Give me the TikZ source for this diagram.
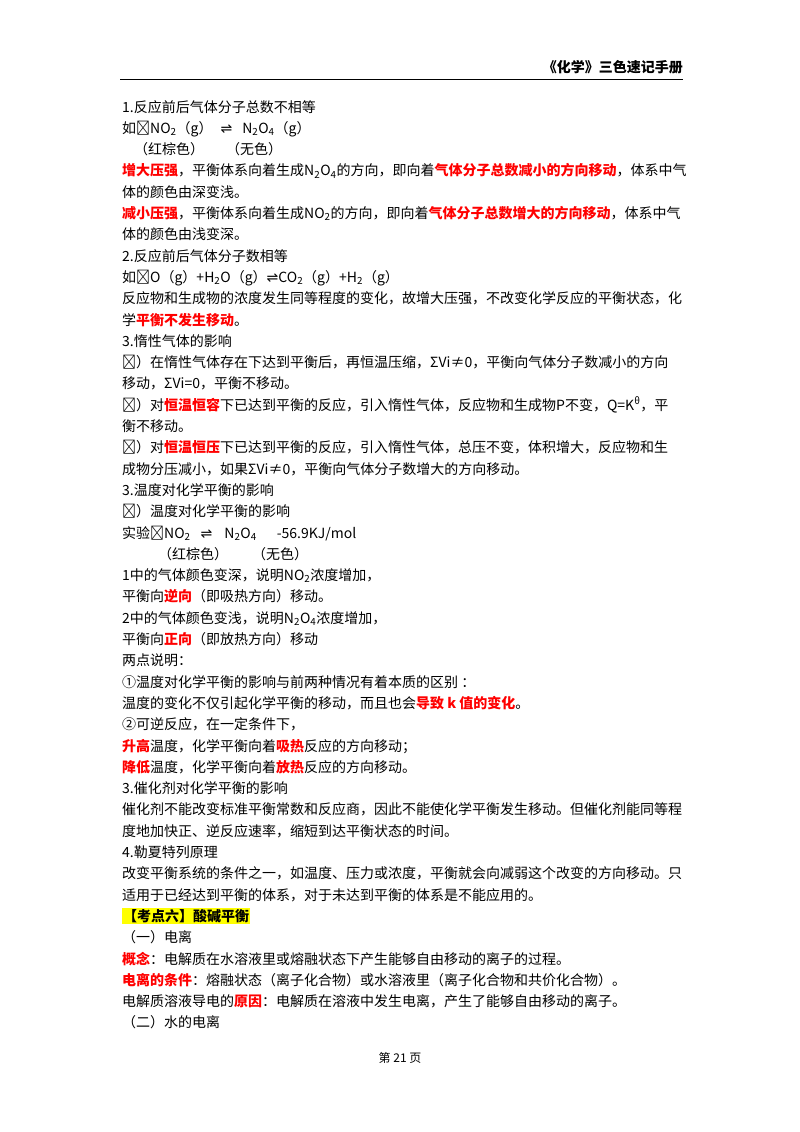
\documentclass[tikz,border=0pt]{standalone}
\usepackage{fontspec}
\setmainfont{Noto Sans CJK SC}
\newfontfamily\symf{DejaVu Sans}
\definecolor{hlred}{HTML}{FF0000}
\definecolor{hlyel}{HTML}{FFFF00}
\newcommand\hl[1]{\textcolor{hlred}{\bfseries #1}}
\newcommand\eqa{{\symf\char"21CC}}
\newcommand\sub[1]{\textsubscript{#1}}
\newcommand\cm{\char"FF0C}
\newcommand\lp{\char"FF08}
\newcommand\rp{\char"FF09}
\newcommand\co{\char"FF1A}
\newcommand\smc{\char"FF1B}
\begin{document}
\begin{tikzpicture}[x=1pt,y=-1pt,
  ln/.style={anchor=base west,inner sep=0pt,font=\fontsize{14}{14}\selectfont}]
\useasboundingbox (0,0) rectangle (800,1132);
\node[anchor=base east,inner sep=0pt,font=\fontsize{14}{14}\selectfont\bfseries] (hd) at (683,73) {《化学》三色速记手册};
\coordinate (r1) at (120,79); \coordinate (r2) at (683,79);
\draw[line width=0.8pt] (r1) -- (r2);
\foreach \t [count=\i] in {
 {1.反应前后气体分子总数不相等},
 {如\co 2NO\sub{2}\lp g\rp\hspace{8pt}\eqa\hspace{10pt}N\sub{2}O\sub{4}\lp g\rp},
 {\hspace{12pt}\lp 红棕色\rp\hspace{22pt}\lp 无色\rp},
 {\hl{增大压强}\cm 平衡体系向着生成N\sub{2}O\sub{4}的方向\cm 即向着\hl{气体分子总数减小的方向移动}\cm 体系中气},
 {体的颜色由深变浅。},
 {\hl{减小压强}\cm 平衡体系向着生成NO\sub{2}的方向\cm 即向着\hl{气体分子总数增大的方向移动}\cm 体系中气},
 {体的颜色由浅变深。},
 {2.反应前后气体分子数相等},
 {如\co CO\lp g\rp +H\sub{2}O\lp g\rp\eqa CO\sub{2}\lp g\rp +H\sub{2}\lp g\rp},
 {反应物和生成物的浓度发生同等程度的变化\cm 故增大压强\cm 不改变化学反应的平衡状态\cm 化},
 {学\hl{平衡不发生移动}。},
 {3.惰性气体的影响},
 {\lp 1\rp 在惰性气体存在下达到平衡后\cm 再恒温压缩\cm ΣVi≠0\cm 平衡向气体分子数减小的方向},
 {移动\cm ΣVi=0\cm 平衡不移动。},
 {\lp 2\rp 对\hl{恒温恒容}下已达到平衡的反应\cm 引入惰性气体\cm 反应物和生成物P不变\cm Q=K\textsuperscript{θ}\cm 平},
 {衡不移动。},
 {\lp 3\rp 对\hl{恒温恒压}下已达到平衡的反应\cm 引入惰性气体\cm 总压不变\cm 体积增大\cm 反应物和生},
 {成物分压减小\cm 如果ΣVi≠0\cm 平衡向气体分子数增大的方向移动。},
 {3.温度对化学平衡的影响},
 {\lp 1\rp 温度对化学平衡的影响},
 {实验\co 2NO\sub{2}\hspace{10pt}\eqa\hspace{12pt}N\sub{2}O\sub{4}\hspace{20pt}-56.9KJ/mol},
 {\hspace{36pt}\lp 红棕色\rp\hspace{24pt}\lp 无色\rp},
 {1中的气体颜色变深\cm 说明NO\sub{2}浓度增加\cm},
 {平衡向\hl{逆向}\lp 即吸热方向\rp 移动。},
 {2中的气体颜色变浅\cm 说明N\sub{2}O\sub{4}浓度增加\cm},
 {平衡向\hl{正向}\lp 即放热方向\rp 移动},
 {两点说明\co},
 {①温度对化学平衡的影响与前两种情况有着本质的区别 \co},
 {温度的变化不仅引起化学平衡的移动\cm 而且也会\hl{导致 k 值的变化}。},
 {②可逆反应\cm 在一定条件下\cm},
 {\hl{升高}温度\cm 化学平衡向着\hl{吸热}反应的方向移动\smc},
 {\hl{降低}温度\cm 化学平衡向着\hl{放热}反应的方向移动。},
 {3.催化剂对化学平衡的影响},
 {催化剂不能改变标准平衡常数和反应商\cm 因此不能使化学平衡发生移动。但催化剂能同等程},
 {度地加快正、逆反应速率\cm 缩短到达平衡状态的时间。},
 {4.勒夏特列原理},
 {改变平衡系统的条件之一\cm 如温度、压力或浓度\cm 平衡就会向减弱这个改变的方向移动。只},
 {适用于已经达到平衡的体系\cm 对于未达到平衡的体系是不能应用的。},
 {{\fboxsep=1pt\colorbox{hlyel}{\bfseries 【考点六】酸碱平衡}}},
 {\lp 一\rp 电离},
 {\hl{概念}\co 电解质在水溶液里或熔融状态下产生能够自由移动的离子的过程。},
 {\hl{电离的条件}\co 熔融状态\lp 离子化合物\rp 或水溶液里\lp 离子化合物和共价化合物\rp 。},
 {电解质溶液导电的\hl{原因}\co 电解质在溶液中发生电离\cm 产生了能够自由移动的离子。},
 {\lp 二\rp 水的电离}}
 {\node[ln] (L\i) at (122,{112+(\i-1)*21.3}) {\t};}
\node[anchor=base,inner sep=0pt,font=\fontsize{12}{12}\selectfont] (ft) at (400,1062) {第 21 页};
\end{tikzpicture}
\end{document}
